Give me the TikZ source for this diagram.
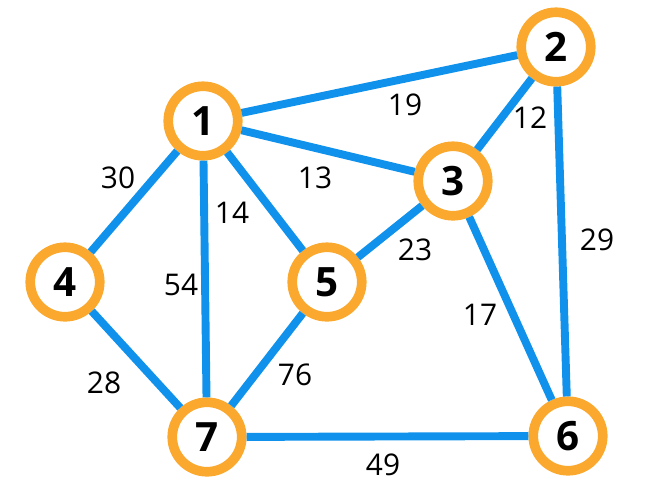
\documentclass[tikz,border=0pt]{standalone}
\usepackage{fontspec}
\setmainfont{Open Sans}
\usepackage{xcolor}

\begin{document}
\begin{tikzpicture}[x=0.02cm,y=-0.02cm,
  vertex/.style={circle,draw=ring,fill=white,line width=5.5pt,minimum size=1.39cm,inner sep=0pt,font=\fontsize{23}{25}\selectfont\bfseries},
  link/.style={line width=4.5pt,draw=wire},
  weight/.style={font=\fontsize{17}{20}\selectfont}]
\definecolor{ring}{HTML}{FAA92E}
\definecolor{wire}{HTML}{1092EC}
\useasboundingbox (0,0) rectangle (669,498);
  \foreach \name/\x/\y in {1/203/121,2/556/47,3/453/181,4/65/282,5/327/282,6/568/436,7/207/437}
  {  \node [vertex] (v\name) at (\x,\y) {\name};}
  \foreach \a/\b/\w/\lx/\ly in {1/2/19/405/105,2/3/12/530/118,1/3/13/315/178,1/5/14/232/213,
    1/4/30/118/178,2/6/29/597/240,3/5/23/415/250,1/7/54/181/285,3/6/17/480/315,
    4/7/28/104/383,5/7/76/295/375,7/6/49/383/465}
  {  \draw [link] (v\a) -- (v\b);
     \node [weight] (w\a\b) at (\lx,\ly) {\w};}
\end{tikzpicture}
\end{document}
